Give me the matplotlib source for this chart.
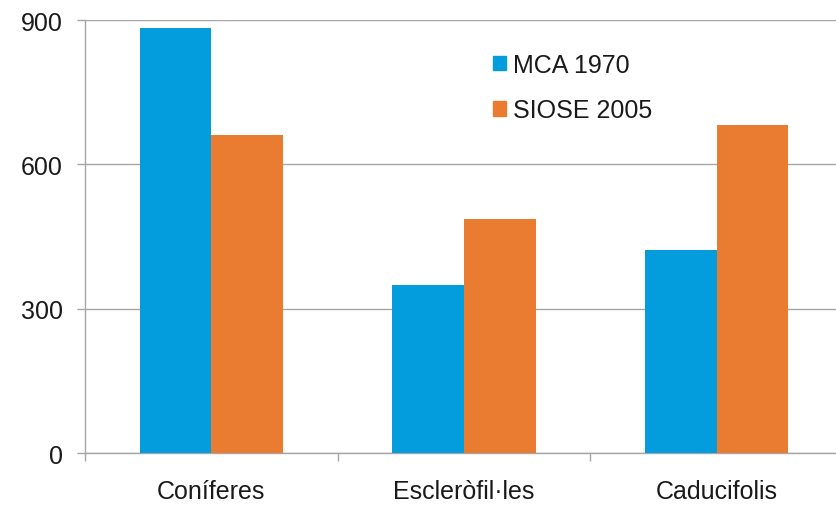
#!/usr/bin/env python3
# -*- coding: utf-8 -*-
"""Superfície per tipus de bosc: MCA 1970 vs SIOSE 2005."""

import numpy as np
import matplotlib
matplotlib.use("Agg")
import matplotlib.pyplot as plt
from matplotlib.patches import Patch

# =============================================================================
CATEGORIES = ["Coníferes", "Escleròfil·les", "Caducifolis"]
SERIES = ["MCA 1970", "SIOSE 2005"]
MCA_1970 = [883, 350, 422]
SIOSE_2005 = [660, 487, 682]
Y_TICKS = [0, 300, 600, 900]

BLUE = "#039cdc"
ORANGE = "#e97c30"
GRID = "#a6a6a6"
TEXT = "#1a1a1a"
FS = 18

plt.rcParams["font.family"] = ["Liberation Sans", "DejaVu Sans"]

# =============================================================================
fig = plt.figure(figsize=(8.36, 5.06), dpi=100)
ax = fig.add_axes([85 / 836, 1 - 454 / 506, 758 / 836, 433 / 506])

x = np.arange(len(CATEGORIES))
w = 0.283
ax.bar(x - w / 2, MCA_1970, width=w, color=BLUE, zorder=3)
ax.bar(x + w / 2, SIOSE_2005, width=w, color=ORANGE, zorder=3)

ax.set_xlim(-0.5, len(CATEGORIES) - 0.5)
ax.set_ylim(0, 900)
ax.set_yticks(Y_TICKS)
ax.yaxis.grid(True, color=GRID, linewidth=1.0, zorder=0)

for side in ["top", "right"]:
    ax.spines[side].set_visible(False)
for side in ["left", "bottom"]:
    ax.spines[side].set_color(GRID)
    ax.spines[side].set_linewidth(1.0)

# labels centred on the groups, tick marks on the group boundaries
ax.set_xticks(x)
ax.set_xticklabels(CATEGORIES)
ax.set_xticks(np.arange(-0.5, len(CATEGORIES)), minor=True)
ax.tick_params(axis="x", which="major", length=0, pad=19,
               labelsize=FS, labelcolor=TEXT)
ax.tick_params(axis="x", which="minor", length=6, color=GRID, width=1.0)
ax.tick_params(axis="y", length=6, color=GRID, width=1.0, pad=10,
               labelsize=FS, labelcolor=TEXT)

handles = [Patch(color=BLUE, label=SERIES[0]),
           Patch(color=ORANGE, label=SERIES[1])]
ax.legend(handles=handles, loc="upper left",
          bbox_to_anchor=((483 - 85) / 758, (454 - 44) / 433),
          frameon=False, fontsize=FS, handlelength=0.5, handleheight=0.5,
          handletextpad=0.3, labelspacing=0.85, labelcolor=TEXT,
          borderaxespad=0)

fig.savefig("out.png", dpi=100)
